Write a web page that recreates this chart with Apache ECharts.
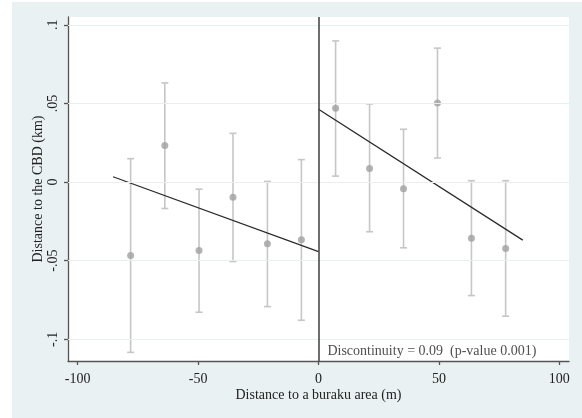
<!DOCTYPE html>
<html>
<head>
<meta charset="utf-8">
<script src="https://cdn.jsdelivr.net/npm/echarts@6/dist/echarts.min.js"></script>
<style>
  html, body { margin: 0; padding: 0; background: #ffffff; }
  #chart { position: absolute; left: 12px; top: 2px; width: 570px; height: 416px; }
</style>
</head>
<body>
<div id="chart"></div>
<script>
// Binned regression-discontinuity estimates (distance to CBD, km) by distance to a buraku area (m)
const binCenters = [-78.0, -63.8, -49.6, -35.5, -21.2, -7.1, 7.1, 21.2, 35.3, 49.4, 63.5, 77.7];
const pointEst   = [-0.0467, 0.0232, -0.0435, -0.0097, -0.0392, -0.0367, 0.0469, 0.0087, -0.0042, 0.0503, -0.0357, -0.0422];
const ciUpper    = [0.0149, 0.0631, -0.0045, 0.0310, 0.0004, 0.0143, 0.0898, 0.0497, 0.0336, 0.0852, 0.0009, 0.0009];
const ciLower    = [-0.1083, -0.0168, -0.0828, -0.0505, -0.0792, -0.0879, 0.0038, -0.0316, -0.0418, 0.0153, -0.0722, -0.0853];

// Linear fits on each side of the cutoff
const fitLeft  = [[-85.3, 0.0034], [0, -0.0443]];
const fitRight = [[0, 0.0463], [84.8, -0.0369]];

// Axis ticks
const xTickValues = [-100, -50, 0, 50, 100];
const xTickLabels = ['-100', '-50', '0', '50', '100'];
const yTickValues = [-0.1, -0.05, 0, 0.05, 0.1];
const yTickLabels = ['-.1', '-.05', '0', '.05', '.1'];

const annotation = { x: 3.7, y: -0.1078, text: 'Discontinuity = 0.09  (p-value 0.001)' };

const FONT = '"Liberation Serif", "Times New Roman", serif';
const TEXT = '#222222';
const FS = 14;

function tickLabel(values, labels, v) {
  const i = values.findIndex(t => Math.abs(t - v) < 1e-9);
  return i >= 0 ? labels[i] : '';
}

const ciData = binCenters.map((x, i) => [x, ciLower[i], ciUpper[i]]);
const ptData = binCenters.map((x, i) => [x, pointEst[i]]);

const chart = echarts.init(document.getElementById('chart'), null, { renderer: 'canvas' });

chart.setOption({
  backgroundColor: '#eaf1f3',
  animation: false,
  grid: {
    left: 56, top: 15, right: 13, bottom: 57,
    show: true, backgroundColor: '#ffffff', borderWidth: 0
  },
  xAxis: {
    type: 'value', min: -104, max: 104,
    name: 'Distance to a buraku area (m)',
    nameLocation: 'middle', nameGap: 27, nameMoveOverlap: false,
    nameTextStyle: { fontFamily: FONT, fontSize: FS, color: TEXT },
    axisLine: { show: true, onZero: false, lineStyle: { color: '#555555', width: 1.3 } },
    axisTick: { show: true, customValues: xTickValues, length: 4, lineStyle: { color: '#555555', width: 1.3 } },
    axisLabel: {
      customValues: xTickValues,
      formatter: v => tickLabel(xTickValues, xTickLabels, v),
      fontFamily: FONT, fontSize: FS, color: TEXT, margin: 11
    },
    splitLine: { show: false }
  },
  yAxis: {
    type: 'value', min: -0.1138, max: 0.105,
    name: 'Distance to the CBD (km)',
    nameLocation: 'middle', nameGap: 23, nameMoveOverlap: false,
    nameTextStyle: { fontFamily: FONT, fontSize: FS, color: TEXT },
    axisLine: { show: true, onZero: false, lineStyle: { color: '#555555', width: 1.3 } },
    axisTick: { show: true, customValues: yTickValues, length: 4, lineStyle: { color: '#555555', width: 1.3 } },
    axisLabel: {
      customValues: yTickValues,
      rotate: 90,
      formatter: v => tickLabel(yTickValues, yTickLabels, v),
      fontFamily: FONT, fontSize: FS, color: TEXT, margin: 8
    },
    splitLine: { show: false }
  },
  series: [
    {
      // horizontal gridlines at the y ticks
      type: 'line', data: [], silent: true,
      markLine: {
        silent: true, symbol: 'none', label: { show: false },
        lineStyle: { color: '#e7eff0', width: 1, type: 'solid' },
        data: yTickValues.map(v => ({ yAxis: v }))
      }
    },
    {
      // confidence intervals with caps
      type: 'custom',
      data: ciData,
      silent: true,
      renderItem: function (params, api) {
        const x = api.value(0);
        const lo = api.coord([x, api.value(1)]);
        const hi = api.coord([x, api.value(2)]);
        const cap = 3.5;
        const style = { stroke: '#c6c6c6', lineWidth: 1.6 };
        return {
          type: 'group',
          children: [
            { type: 'line', shape: { x1: lo[0], y1: lo[1], x2: hi[0], y2: hi[1] }, style },
            { type: 'line', shape: { x1: lo[0] - cap, y1: lo[1], x2: lo[0] + cap, y2: lo[1] }, style },
            { type: 'line', shape: { x1: hi[0] - cap, y1: hi[1], x2: hi[0] + cap, y2: hi[1] }, style }
          ]
        };
      },
      z: 2
    },
    {
      type: 'scatter', data: ptData, symbol: 'circle', symbolSize: 7,
      itemStyle: { color: '#a0a0a0' }, silent: true, z: 3
    },
    {
      type: 'line', data: fitLeft, symbol: 'none', silent: true,
      lineStyle: { color: '#2b2b2b', width: 1.3 }, z: 4
    },
    {
      type: 'line', data: fitRight, symbol: 'none', silent: true,
      lineStyle: { color: '#2b2b2b', width: 1.3 }, z: 4,
      markLine: {
        silent: true, symbol: 'none', label: { show: false },
        lineStyle: { color: '#4a4a4a', width: 1.6, type: 'solid' },
        data: [{ xAxis: 0 }]
      }
    },
    {
      type: 'scatter', symbolSize: 0, silent: true,
      data: [[annotation.x, annotation.y]],
      label: {
        show: true, position: 'right', distance: 0,
        formatter: annotation.text,
        fontFamily: FONT, fontSize: FS, color: TEXT
      },
      z: 5
    }
  ]
});
</script>
</body>
</html>
